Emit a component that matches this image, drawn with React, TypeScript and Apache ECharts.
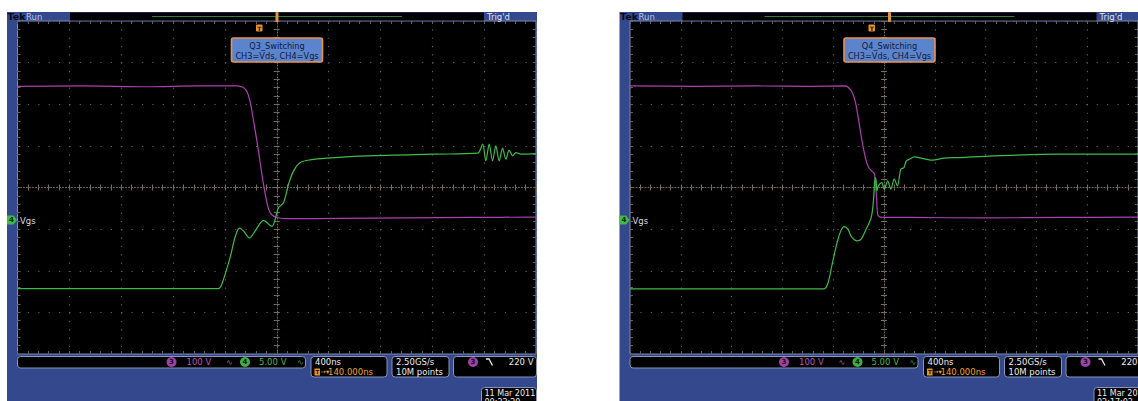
import React, { useEffect, useRef } from "react";
import * as echarts from "echarts";

// ---------- axis settings (oscilloscope: 400 ns/div, CH3 100 V/div, CH4 5 V/div) ----------
const TIME_MIN = -2000; // ns
const TIME_MAX = 2000;
const TIME_DIV = 400;
const CH3_MIN = -325; // V
const CH3_MAX = 475;
const CH4_MIN = -16; // V
const CH4_MAX = 24;

// ---------- Q3 switching ----------
const q3VdsTime = [-2000, -1500, -1000, -600, -300, -282, -257, -231, -210, -192, -166, -141, -115, -89, -63, -37, 2, 79, 500, 1000, 1500, 2000];
const q3VdsVolt = [318, 319, 317, 319, 319, 318, 315, 306, 287, 259, 211, 163, 107, 59, 23, 9, 3, 0, 1, 2, 3, 4];
const q3VgsTime = [-2000, -1000, -450, -424, -360, -321, -288, -257, -210, -166, -102, -37, -12, 14, 53, 91, 130, 182, 259, 388, 698, 1213, 1549, 1588, 1613, 1639, 1665, 1690, 1716, 1742, 1768, 1793, 1820, 1845, 1884, 2000];
const q3VgsVolt = [-8.15, -8.15, -8.15, -7.62, -4.42, -1.94, -0.89, -1.21, -2.06, -1.21, 0.05, -0.67, 0.19, 1.59, 2.19, 4.4, 6.0, 7.0, 7.32, 7.52, 7.8, 8.0, 8.12, 9.2, 7.2, 9.2, 7.2, 9.0, 7.2, 8.73, 7.4, 8.49, 7.8, 8.2, 8.0, 8.08];

// ---------- Q4 switching ----------
const q4VdsTime = [-2000, -1500, -1000, -600, -302, -276, -250, -224, -199, -173, -147, -121, -91, -75, -64, -56, -49, -30, 200, 800, 1400, 2000];
const q4VdsVolt = [319, 318, 319, 318, 319, 314, 303, 279, 235, 187, 147, 123, 113, 108, 75, 35, 9, 4, 3, 2, 3, 4];
const q4VgsTime = [-2000, -1000, -472, -441, -406, -366, -340, -315, -286, -255, -211, -178, -147, -101, -83, -70, -62, -56, -44, -18, 2, 29, 54, 80, 106, 132, 157, 176, 201, 240, 292, 381, 472, 601, 859, 1375, 1916, 2000];
const q4VgsVolt = [-8.18, -8.18, -8.18, -7.46, -5.06, -2.42, -1.21, -0.7, -0.97, -1.94, -2.42, -2.18, -1.21, 0.38, 2.39, 5.19, 4.8, 3.59, 4.19, 4.59, 3.8, 4.8, 3.8, 5.0, 4.19, 6.2, 6.39, 7.2, 7.4, 7.68, 7.52, 7.28, 7.52, 7.6, 7.8, 8.0, 8.0, 8.05];

// ---------- panel texts ----------
const panelTitles = ["Q3_Switching", "Q4_Switching"];
const panelClocks = ["00:22:20", "02:17:03"];
const panelNote = "CH3=Vds, CH4=Vgs";
const ch3Scale = "100 V";
const ch4Scale = "5.00 V";
const timeScale = "400ns";
const trigDelay = "140.000ns";
const sampleRate = "2.50GS/s";
const recordLen = "10M points";
const trigLevel = "220 V";
const dateText = "11 Mar 2011";

// ---------- styling ----------
const PANEL_DX = [0, 612.5];
const GRID_LEFT = 17.5;
const GRID_TOP = 21;
const GRID_W = 518.5;
const GRID_H = 333;
const BLUE = "#34488e";
const PURPLE = "#ab3fb0";
const GREEN = "#3fba4a";
const DOT = "#626262";
const CENTER = "#7a6c5a";
const BOX_STROKE = "#8894bb";
const FONT = "DejaVu Sans";

const zip = (t: number[], v: number[]) => t.map((x, i) => [x, v[i]]);

function txt(x: number, y: number, s: string, color: string, size = 8.5, align = "left", weight = "normal"): any {
  return {
    type: "text",
    x,
    y,
    z: 110,
    style: {
      text: s,
      fill: color,
      fontSize: size,
      fontFamily: FONT,
      fontWeight: weight,
      align,
      textAlign: align,
      verticalAlign: "middle",
      textVerticalAlign: "middle",
    },
  };
}

function box(x: number, y: number, w: number, h: number): any {
  return {
    type: "rect",
    z: 100,
    shape: { x, y, width: w, height: h, r: 3 },
    style: { fill: "#000", stroke: BOX_STROKE, lineWidth: 1 },
  };
}

function badge(cx: number, cy: number, fill: string, label: string): any[] {
  return [
    { type: "circle", z: 105, shape: { cx, cy, r: 5 }, style: { fill } },
    txt(cx, cy + 0.3, label, "#111", 7, "center", "bold"),
  ];
}

function panelGraphics(p: number): any[] {
  const dx = PANEL_DX[p];
  const X = (v: number) => v + dx;
  return [
    { type: "rect", z: -10, shape: { x: X(7), y: 12, width: 530, height: 389 }, style: { fill: BLUE } },
    // top status bar
    { type: "rect", z: 100, shape: { x: X(70), y: 12.5, width: 414, height: 8 }, style: { fill: "#000" } },
    txt(X(7.5), 16.5, "Tek", "#0a0a14", 9.5, "left", "bold"),
    txt(X(26), 16.5, "Run", "#b9c3e6", 8.5),
    txt(X(487), 16.5, "Trig'd", "#dfe3f5", 8.5),
    { type: "line", z: 101, shape: { x1: X(152), y1: 16.5, x2: X(402), y2: 16.5 }, style: { stroke: "#2f7d3b", lineWidth: 1 } },
    { type: "rect", z: 102, shape: { x: X(275.5), y: 12, width: 3, height: 10, r: 1 }, style: { fill: "#e3953e" } },
    // trigger point marker
    { type: "rect", z: 100, shape: { x: X(256), y: 24.5, width: 6.5, height: 7, r: 1 }, style: { fill: "#e8922e" } },
    txt(X(259.25), 28.2, "T", "#2a1200", 6, "center", "bold"),
    // annotation
    {
      type: "rect",
      z: 100,
      shape: { x: X(231.5), y: 38, width: 91, height: 24, r: 2 },
      style: { fill: "#5c84cc", stroke: "#e8924a", lineWidth: 1.6 },
    },
    txt(X(277), 46, panelTitles[p], "#0c1a44", 8.2, "center"),
    txt(X(277), 55.5, panelNote, "#0c1a44", 8.2, "center"),
    // CH4 ground marker
    {
      type: "polygon",
      z: 100,
      shape: { points: [[X(7), 215.5], [X(13.5), 215.5], [X(17), 220], [X(13.5), 224.5], [X(7), 224.5]] },
      style: { fill: GREEN },
    },
    txt(X(11.5), 220.2, "4", "#0a2a0a", 7, "center", "bold"),
    txt(X(20), 220.5, "Vgs", "#dcdcdc", 8.5),
    // bottom readouts
    box(X(17.5), 356.5, 288, 11.5),
    ...badge(X(171.5), 362, "#a040a8", "3"),
    txt(X(186.5), 362.3, ch3Scale, "#b457bb"),
    txt(X(226), 362, "\u223F", "#9b6aa3", 8),
    ...badge(X(245), 362, "#3cb043", "4"),
    txt(X(259), 362.3, ch4Scale, "#44b84c"),
    txt(X(297), 362, "\u223F", "#3e9e46", 8),
    box(X(311), 356.5, 76, 20.5),
    txt(X(315), 362, timeScale, "#ececec"),
    { type: "rect", z: 105, shape: { x: X(314.5), y: 368.5, width: 5.5, height: 7 }, style: { fill: "#e8922e" } },
    txt(X(317.25), 372, "T", "#2a1200", 5.5, "center", "bold"),
    txt(X(320.5), 372, "\u2192\u25BE", "#f2a03c", 6.5),
    txt(X(328), 372, trigDelay, "#f2a03c"),
    box(X(392), 356.5, 57, 20.5),
    txt(X(396), 362, sampleRate, "#ececec"),
    txt(X(396), 372, recordLen, "#ececec"),
    box(X(453.5), 356.5, 83, 20.5),
    ...badge(X(473), 362, "#a040a8", "3"),
    {
      type: "polyline",
      z: 105,
      shape: { points: [[X(486), 359], [X(489), 359], [X(492.5), 365.5]] },
      style: { stroke: "#e8e8e8", lineWidth: 1.3, fill: null },
    },
    txt(X(533.5), 362, trigLevel, "#ececec", 8.5, "right"),
    box(X(481.5), 387.5, 55, 20),
    txt(X(484.5), 393.5, dateText, "#ececec", 8),
    txt(X(484.5), 402.5, panelClocks[p], "#ececec", 8),
  ];
}

function buildOption(): any {
  const grid: any[] = [];
  const xAxis: any[] = [];
  const yAxis: any[] = [];
  const series: any[] = [];
  const traces = [
    [zip(q3VdsTime, q3VdsVolt), zip(q3VgsTime, q3VgsVolt)],
    [zip(q4VdsTime, q4VdsVolt), zip(q4VgsTime, q4VgsVolt)],
  ];
  const edgeTick = { show: true, inside: true, length: 3, lineStyle: { color: DOT, width: 1 } };
  const edgeMinor = { show: true, splitNumber: 5, length: 3, lineStyle: { color: DOT, width: 1 } };
  const cTick = { show: true, length: 3, lineStyle: { color: CENTER, width: 1 } };
  const cMinor = { show: true, splitNumber: 5, length: 3, lineStyle: { color: CENTER, width: 1 } };

  PANEL_DX.forEach((dx, p) => {
    grid.push({
      left: GRID_LEFT + dx,
      top: GRID_TOP,
      width: GRID_W,
      height: GRID_H,
      show: true,
      backgroundColor: "#000",
      borderColor: "#7d8bb5",
      borderWidth: 1,
    });
    const xb = {
      type: "value",
      gridIndex: p,
      min: TIME_MIN,
      max: TIME_MAX,
      interval: TIME_DIV,
      axisLabel: { show: false },
      splitLine: { show: false },
    };
    const yb = {
      type: "value",
      gridIndex: p,
      min: -4,
      max: 4,
      interval: 1,
      axisLabel: { show: false },
      splitLine: { show: false },
    };
    const x0 = p * 4;
    const y0 = p * 6;
    xAxis.push({
      ...xb,
      position: "bottom",
      axisLine: { show: false, onZero: false },
      axisTick: edgeTick,
      minorTick: edgeMinor,
      splitLine: { show: true, lineStyle: { color: DOT, width: 1.2, type: [1.2, 7.13] } },
    });
    xAxis.push({ ...xb, position: "top", axisLine: { show: false, onZero: false }, axisTick: edgeTick, minorTick: edgeMinor });
    xAxis.push({
      ...xb,
      position: "top",
      axisLine: { show: true, onZero: true, onZeroAxisIndex: y0, lineStyle: { color: CENTER, width: 1, type: [1, 2] } },
      axisTick: cTick,
      minorTick: cMinor,
    });
    xAxis.push({
      ...xb,
      position: "bottom",
      axisLine: { show: false, onZero: true, onZeroAxisIndex: y0 },
      axisTick: cTick,
      minorTick: cMinor,
    });
    yAxis.push({
      ...yb,
      position: "left",
      axisLine: { show: false, onZero: false },
      axisTick: edgeTick,
      minorTick: edgeMinor,
      splitLine: { show: true, lineStyle: { color: DOT, width: 1.2, type: [1.2, 9.17] } },
    });
    yAxis.push({ ...yb, position: "right", axisLine: { show: false, onZero: false }, axisTick: edgeTick, minorTick: edgeMinor });
    yAxis.push({
      ...yb,
      position: "left",
      axisLine: { show: true, onZero: true, onZeroAxisIndex: x0, lineStyle: { color: CENTER, width: 1, type: [1, 2] } },
      axisTick: cTick,
      minorTick: cMinor,
    });
    yAxis.push({
      ...yb,
      position: "right",
      axisLine: { show: false, onZero: true, onZeroAxisIndex: x0 },
      axisTick: cTick,
      minorTick: cMinor,
    });
    yAxis.push({ type: "value", gridIndex: p, min: CH3_MIN, max: CH3_MAX, show: false, axisLine: { onZero: false } });
    yAxis.push({ type: "value", gridIndex: p, min: CH4_MIN, max: CH4_MAX, show: false, axisLine: { onZero: false } });

    series.push({
      type: "line",
      name: "CH3 Vds",
      xAxisIndex: x0,
      yAxisIndex: y0 + 4,
      data: traces[p][0],
      showSymbol: false,
      smooth: 0.25,
      lineStyle: { color: PURPLE, width: 1.2 },
      z: 3,
    });
    series.push({
      type: "line",
      name: "CH4 Vgs",
      xAxisIndex: x0,
      yAxisIndex: y0 + 5,
      data: traces[p][1],
      showSymbol: false,
      smooth: 0.3,
      lineStyle: { color: GREEN, width: 1.2 },
      z: 4,
    });
  });

  return {
    animation: false,
    grid,
    xAxis,
    yAxis,
    series,
    graphic: { elements: [...panelGraphics(0), ...panelGraphics(1)] },
  };
}

export default function App() {
  const ref = useRef<HTMLDivElement>(null);
  useEffect(() => {
    const chart = echarts.init(ref.current as HTMLDivElement, undefined, { renderer: "svg" });
    chart.setOption(buildOption());
    return () => chart.dispose();
  }, []);
  return (
    <div
      ref={ref}
      style={{ position: "fixed", left: 0, top: 0, width: 1138, height: 401, background: "#fff" }}
    />
  );
}
